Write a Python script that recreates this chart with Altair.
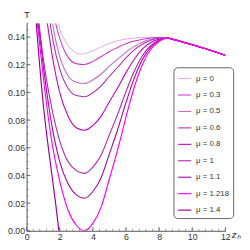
import altair as alt
import pandas as pd

labels = ["μ = 0", "μ = 0.3", "μ = 0.5", "μ = 0.6", "μ = 0.8", "μ = 1", "μ = 1.1", "μ = 1.218", "μ = 1.4"]
colors = ["#E6A6E6", "#CC33CC", "#C466C4", "#B22CB2", "#C400C4", "#B424B4", "#A010A0", "#FF00FF", "#980098"]
widths = [1.0, 1.2, 1.4, 1.6, 1.9, 2.1, 2.4, 2.7, 3.0]

z_tail = [8.5, 9.0, 10.0, 11.0, 12.0]
T_tail = [0.1392, 0.1378, 0.1345, 0.1308, 0.1267]

z_mu0 = [1.93, 2.0, 2.25, 2.5, 2.75, 3.0, 3.3, 3.5, 4.0, 4.5, 5.0, 5.5, 6.0, 6.5, 7.0, 7.5, 8.0]
T_mu0 = [0.150, 0.146, 0.139, 0.134, 0.1305, 0.1285, 0.1277, 0.128, 0.130, 0.1328, 0.1355, 0.1373, 0.1386, 0.1393, 0.1397, 0.1399, 0.1398]

z_mu03 = [1.75, 2.0, 2.25, 2.5, 3.0, 3.5, 4.0, 4.5, 5.0, 5.5, 6.0, 6.5, 7.0, 7.5, 8.0]
T_mu03 = [0.150, 0.139, 0.131, 0.1255, 0.1208, 0.1202, 0.1224, 0.1258, 0.1296, 0.1325, 0.1352, 0.1371, 0.1385, 0.1394, 0.1396]

z_mu05 = [1.57, 1.75, 2.0, 2.5, 3.0, 3.5, 4.0, 4.5, 5.0, 5.5, 6.0, 6.5, 7.0, 7.5, 8.0]
T_mu05 = [0.150, 0.138, 0.126, 0.112, 0.1073, 0.1064, 0.109, 0.1133, 0.119, 0.1241, 0.1291, 0.1333, 0.1365, 0.1384, 0.1393]

z_mu06 = [1.42, 1.6, 2.0, 2.5, 3.0, 3.5, 4.0, 4.5, 5.0, 5.5, 6.0, 6.5, 7.0, 7.5, 8.0]
T_mu06 = [0.150, 0.137, 0.117, 0.103, 0.0977, 0.0969, 0.0998, 0.1047, 0.1117, 0.1182, 0.1249, 0.1307, 0.135, 0.1377, 0.1391]

z_mu08 = [1.25, 1.5, 2.0, 2.5, 3.0, 3.5, 4.0, 4.5, 5.0, 5.5, 6.0, 6.5, 7.0, 7.5, 8.0]
T_mu08 = [0.150, 0.130, 0.100, 0.083, 0.0745, 0.0727, 0.0762, 0.0829, 0.0933, 0.1034, 0.1143, 0.124, 0.1314, 0.1361, 0.1385]

z_mu1 = [0.75, 1.0, 1.5, 2.0, 2.5, 3.0, 3.5, 4.0, 4.5, 5.0, 5.5, 6.0, 6.5, 7.0, 7.5, 8.0]
T_mu1 = [0.150, 0.125, 0.090, 0.065, 0.050, 0.0435, 0.0415, 0.046, 0.0548, 0.0695, 0.0843, 0.1006, 0.1153, 0.1267, 0.1339, 0.1378]

z_mu11 = [0.70, 1.0, 1.5, 2.0, 2.5, 3.0, 3.5, 4.0, 4.5, 5.0, 5.5, 6.0, 6.5, 7.0, 7.5, 8.0]
T_mu11 = [0.150, 0.120, 0.078, 0.050, 0.034, 0.026, 0.0235, 0.0284, 0.0384, 0.0556, 0.0732, 0.0926, 0.1103, 0.124, 0.1326, 0.1374]

z_mu1218 = [0.65, 1.0, 1.5, 2.0, 2.5, 3.0, 3.5, 4.0, 4.5, 5.0, 5.5, 6.0, 6.5, 7.0, 7.5, 8.0]
T_mu1218 = [0.150, 0.112, 0.066, 0.036, 0.015, 0.004, 0.0, 0.0054, 0.0171, 0.0376, 0.0587, 0.0822, 0.1037, 0.1204, 0.131, 0.1368]

z_mu14 = [0.58, 0.75, 1.0, 1.25, 1.5, 1.75, 1.95, 2.0]
T_mu14 = [0.150, 0.125, 0.092, 0.066, 0.043, 0.020, 0.0, -0.005]

series_z = [z_mu0, z_mu03, z_mu05, z_mu06, z_mu08, z_mu1, z_mu11, z_mu1218, z_mu14]
series_T = [T_mu0, T_mu03, T_mu05, T_mu06, T_mu08, T_mu1, T_mu11, T_mu1218, T_mu14]
has_tail = [True, True, True, True, True, True, True, True, False]

x_ticks_major = [0, 2, 4, 6, 8, 10, 12]
x_ticks_minor = [0.4 * i for i in range(31)]
y_ticks_major = [0.0, 0.02, 0.04, 0.06, 0.08, 0.10, 0.12, 0.14]
y_ticks_minor = [0.005 * i for i in range(31)]

rows = []
for k, (lab, zs, ts) in enumerate(zip(labels, series_z, series_T)):
    zz = list(zs) + (z_tail if has_tail[k] else [])
    tt = list(ts) + (T_tail if has_tail[k] else [])
    for i, (a, b) in enumerate(zip(zz, tt)):
        rows.append({"mu": lab, "z": a, "T": b, "i": i, "k": k})
df = pd.DataFrame(rows)

font = "Liberation Sans"
W, H = 203, 212
xs = alt.Scale(domain=[0, 12], nice=False)
ys = alt.Scale(domain=[0, 0.15], nice=False)

x_axis = alt.Axis(
    values=x_ticks_major, format="d", ticks=False, grid=False, domainColor="#555",
    labelFont=font, labelFontSize=9, labelColor="#333", labelPadding=2,
    labelOverlap=False, labelFlush=False,
    title="zₕ", titleFont=font, titleFontSize=10, titleFontStyle="italic",
    titleFontWeight="normal", titleColor="#333",
    titleAlign="left", titleX=W + 6, titleY=4, titleBaseline="middle")
y_axis = alt.Axis(
    values=y_ticks_major, format=".2f", ticks=False, grid=False, domainColor="#555",
    labelFont=font, labelFontSize=9, labelColor="#333", labelPadding=2,
    labelOverlap=False, labelFlush=False,
    title="T", titleFont=font, titleFontSize=10, titleFontWeight="normal",
    titleColor="#333", titleAngle=0, titleAlign="center", titleX=0, titleY=-9,
    titleBaseline="middle")

lines = alt.Chart(df).mark_line(clip=True, interpolate="monotone").encode(
    x=alt.X("z:Q", scale=xs, axis=x_axis, title="zₕ"),
    y=alt.Y("T:Q", scale=ys, axis=y_axis, title="T"),
    color=alt.Color("mu:N", sort=labels, scale=alt.Scale(domain=labels, range=colors),
                    legend=alt.Legend(
                        title=None, orient="none", legendX=150, legendY=45,
                        symbolType="stroke", symbolStrokeWidth=2, symbolSize=180,
                        labelFont=font, labelFontSize=8, labelColor="#333",
                        rowPadding=4.8, padding=4, strokeColor="#666", cornerRadius=4,
                        fillColor="white", labelOffset=4)),
    strokeWidth=alt.StrokeWidth("mu:N", sort=labels,
                                scale=alt.Scale(domain=labels, range=widths), legend=None),
    detail="k:N",
    order="i:Q",
)

xt_major = alt.Chart(pd.DataFrame({"z": x_ticks_major})).mark_rule(color="#555", strokeWidth=0.8).encode(
    x=alt.X("z:Q", scale=xs, axis=x_axis, title="zₕ"), y=alt.value(H), y2=alt.value(H - 4))
xt_minor = alt.Chart(pd.DataFrame({"z": x_ticks_minor})).mark_rule(color="#555", strokeWidth=0.6).encode(
    x=alt.X("z:Q", scale=xs, axis=x_axis, title="zₕ"), y=alt.value(H), y2=alt.value(H - 2))
yt_major = alt.Chart(pd.DataFrame({"T": y_ticks_major})).mark_rule(color="#555", strokeWidth=0.8).encode(
    y=alt.Y("T:Q", scale=ys, axis=y_axis, title="T"), x=alt.value(0), x2=alt.value(4))
yt_minor = alt.Chart(pd.DataFrame({"T": y_ticks_minor})).mark_rule(color="#555", strokeWidth=0.6).encode(
    y=alt.Y("T:Q", scale=ys, axis=y_axis, title="T"), x=alt.value(0), x2=alt.value(2))

chart = alt.layer(lines, xt_minor, xt_major, yt_minor, yt_major).properties(
    width=W, height=H,
    autosize=alt.AutoSizeParams(type="none"),
    padding={"left": 19, "top": 13, "right": 17, "bottom": 14},
).configure_view(stroke=None)

chart.save("out.html", embed_options={"renderer": "svg", "actions": False})
